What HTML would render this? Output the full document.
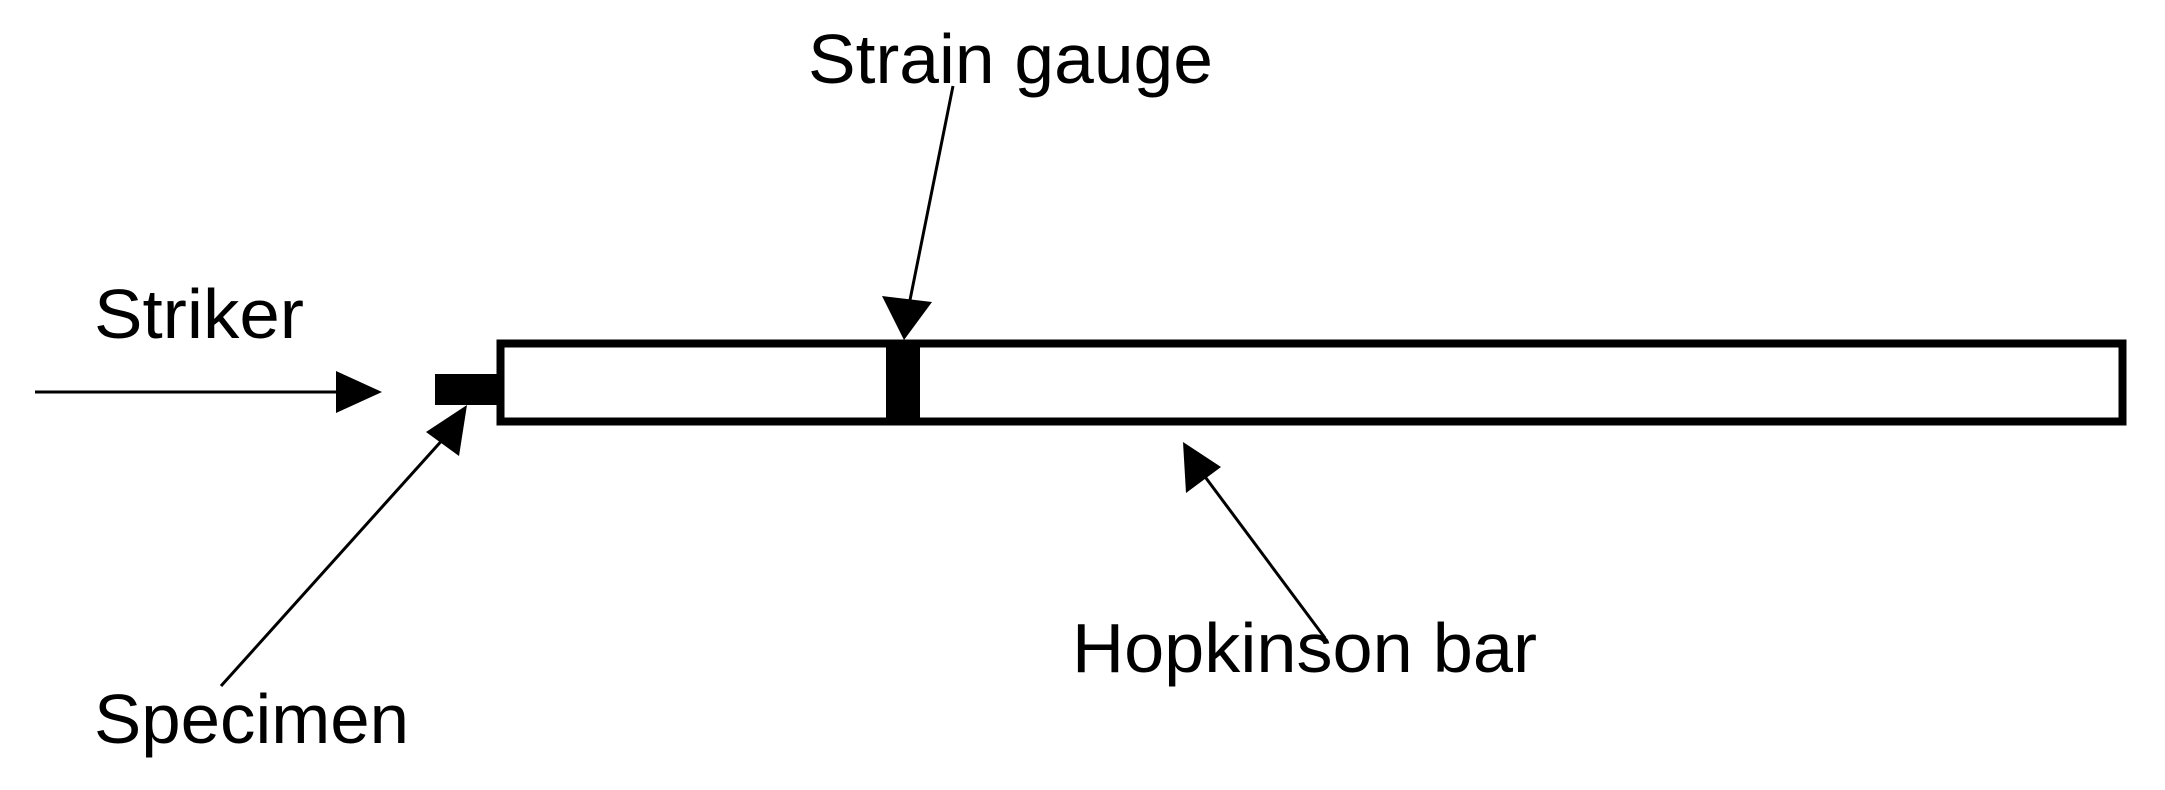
<!DOCTYPE html>
<html><head><meta charset="utf-8"><style>html,body{margin:0;padding:0;background:#fff}svg{display:block}</style></head>
<body>
<svg width="2165" height="790" viewBox="0 0 2165 790" xmlns="http://www.w3.org/2000/svg">
<g font-family="'Liberation Sans Narrow','Liberation Sans',sans-serif" font-size="70" fill="#000">
<text x="808" y="83" textLength="405" lengthAdjust="spacingAndGlyphs">Strain gauge</text>
<text x="94" y="338" textLength="210" lengthAdjust="spacingAndGlyphs">Striker</text>
<text x="1072" y="672" textLength="465" lengthAdjust="spacingAndGlyphs">Hopkinson bar</text>
<text x="94" y="743" textLength="315" lengthAdjust="spacingAndGlyphs">Specimen</text>
</g>
<rect x="500.5" y="343.5" width="1622" height="78" fill="#fff" stroke="#000" stroke-width="8"/>
<rect x="886" y="340" width="34" height="85" fill="#000"/>
<rect x="435" y="374" width="62" height="31" fill="#000"/>
<g stroke="#000" stroke-width="3">
<line x1="35" y1="392" x2="338" y2="392"/>
<line x1="953" y1="86" x2="910" y2="300"/>
<line x1="221" y1="686" x2="445" y2="437"/>
<line x1="1325" y1="638" x2="1200" y2="470"/>
</g>
<polygon points="382,392 336,371 336,413" fill="#000"/>
<polygon points="904,340 882,296 932,302" fill="#000"/>
<polygon points="467,405 426,432 459,456" fill="#000"/>
<polygon points="1183,442 1186,493 1221,467" fill="#000"/>
</svg>
</body></html>
